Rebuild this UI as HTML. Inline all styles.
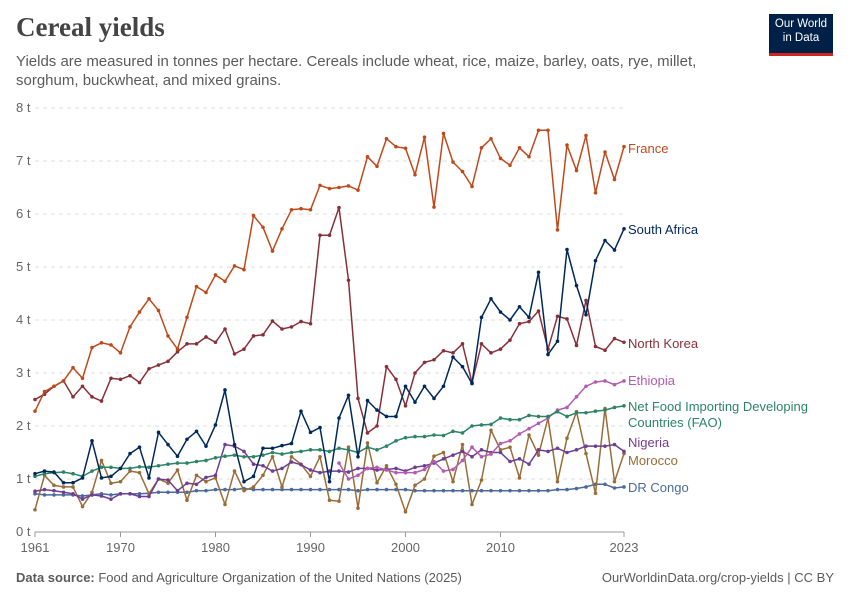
<!DOCTYPE html>
<html><head><meta charset="utf-8">
<style>
body{margin:0;background:#fff;font-family:"Liberation Sans",sans-serif;}
#wrap{position:relative;width:850px;height:600px;overflow:hidden;}
h1{position:absolute;left:16px;top:12px;margin:0;font-family:"Liberation Serif",serif;font-size:27px;font-weight:bold;color:#444;}
.sub{position:absolute;left:16px;top:52px;width:700px;font-size:15px;line-height:19px;color:#5b5b5b;}
.logo{position:absolute;left:769px;top:14px;width:64px;height:36px;background:#002147;border-bottom:3px solid #ce261e;color:#fff;font-size:11.5px;line-height:14px;text-align:center;padding-top:3px;box-sizing:content-box;}
.foot{position:absolute;top:570px;font-size:13px;color:#5b5b5b;}
</style></head><body>
<div id="wrap">
<h1>Cereal yields</h1>
<div class="sub">Yields are measured in tonnes per hectare. Cereals include wheat, rice, maize, barley, oats, rye, millet, sorghum, buckwheat, and mixed grains.</div>
<div class="logo">Our World<br>in Data</div>
<svg id="chart" width="850" height="600" style="position:absolute;left:0;top:0"></svg>
<div class="foot" style="left:16px"><b>Data source:</b> Food and Agriculture Organization of the United Nations (2025)</div>
<div class="foot" style="right:16px">OurWorldinData.org/crop-yields | CC BY</div>
</div>
<script>
const startYear = 1961;
const yTicks = [0,1,2,3,4,5,6,7,8];
const xTicks = [1961,1970,1980,1990,2000,2010,2023];
const france = [2.28,2.65,2.75,2.85,3.1,2.9,3.48,3.57,3.53,3.38,3.87,4.15,4.4,4.18,3.7,3.45,4.05,4.63,4.52,4.85,4.73,5.02,4.95,5.97,5.75,5.3,5.72,6.08,6.1,6.08,6.54,6.48,6.5,6.53,6.45,7.08,6.9,7.42,7.27,7.24,6.74,7.45,6.13,7.52,6.98,6.8,6.52,7.25,7.42,7.05,6.92,7.25,7.08,7.58,7.58,5.7,7.3,6.82,7.48,6.4,7.17,6.65,7.27];
const northKorea = [2.5,2.6,2.75,2.85,2.55,2.75,2.55,2.47,2.9,2.88,2.95,2.82,3.08,3.15,3.22,3.4,3.55,3.55,3.68,3.58,3.83,3.36,3.45,3.7,3.72,3.98,3.83,3.87,3.97,3.93,5.6,5.6,6.12,4.75,2.52,1.87,2.0,3.12,2.88,2.38,3.0,3.2,3.25,3.42,3.38,3.55,2.82,3.55,3.38,3.45,3.62,3.93,3.97,4.17,3.45,4.07,4.02,3.52,4.37,3.5,3.43,3.65,3.58];
const southAfrica = [1.1,1.15,1.13,0.93,0.93,1.02,1.72,1.02,1.05,1.2,1.48,1.6,1.02,1.88,1.65,1.43,1.75,1.9,1.62,2.02,2.68,1.65,0.95,1.05,1.58,1.58,1.63,1.67,2.28,1.88,1.97,0.95,2.15,2.58,1.42,2.48,2.3,2.18,2.18,2.75,2.45,2.75,2.52,2.75,3.3,3.12,2.8,4.05,4.4,4.15,4.0,4.25,4.05,4.9,3.35,3.6,5.33,4.65,4.1,5.12,5.5,5.32,5.72];
const ethiopiaStart = 1993;
const ethiopia = [1.3,1.0,1.07,1.2,1.22,1.17,1.12,1.12,1.12,1.18,1.33,1.15,1.18,1.35,1.6,1.42,1.47,1.67,1.72,1.85,1.95,2.05,2.15,2.3,2.35,2.55,2.75,2.83,2.85,2.78,2.85];
const netFood = [1.05,1.1,1.12,1.13,1.1,1.05,1.15,1.22,1.22,1.2,1.2,1.23,1.22,1.25,1.28,1.3,1.3,1.33,1.35,1.4,1.43,1.45,1.42,1.42,1.45,1.5,1.47,1.5,1.52,1.55,1.55,1.52,1.58,1.55,1.5,1.6,1.55,1.62,1.72,1.78,1.8,1.8,1.83,1.82,1.9,1.87,2.0,2.02,2.03,2.15,2.12,2.12,2.2,2.18,2.18,2.27,2.18,2.25,2.25,2.28,2.3,2.35,2.38];
const nigeria = [0.77,0.8,0.78,0.75,0.72,0.62,0.7,0.68,0.62,0.72,0.72,0.67,0.67,1.0,0.98,0.78,0.92,0.9,1.03,1.07,1.65,1.62,1.52,1.28,1.25,1.15,1.2,1.32,1.27,1.17,1.12,1.15,1.15,1.13,1.2,1.2,1.17,1.18,1.2,1.15,1.22,1.25,1.3,1.38,1.45,1.52,1.42,1.55,1.5,1.5,1.33,1.38,1.28,1.55,1.52,1.58,1.5,1.55,1.62,1.62,1.62,1.65,1.52];
const morocco = [0.42,1.07,0.88,0.85,0.85,0.48,0.75,1.35,0.92,0.95,1.15,1.12,0.72,1.0,0.92,1.17,0.6,1.07,0.95,1.02,0.52,1.15,0.78,0.85,1.07,1.42,0.85,1.42,1.28,1.05,1.42,0.6,0.58,1.6,0.45,1.68,0.93,1.25,0.9,0.38,0.88,1.0,1.43,1.5,0.95,1.65,0.52,0.98,1.92,1.55,1.6,1.02,1.83,1.45,2.15,0.95,1.77,2.27,1.48,0.73,2.33,0.95,1.48];
const drCongo = [0.72,0.7,0.7,0.7,0.7,0.68,0.7,0.72,0.7,0.72,0.72,0.72,0.73,0.75,0.75,0.75,0.75,0.78,0.78,0.8,0.8,0.8,0.82,0.8,0.8,0.8,0.8,0.8,0.8,0.8,0.8,0.8,0.8,0.8,0.78,0.8,0.8,0.8,0.8,0.8,0.78,0.78,0.78,0.78,0.78,0.78,0.78,0.78,0.78,0.78,0.78,0.78,0.78,0.78,0.78,0.8,0.8,0.82,0.85,0.9,0.9,0.83,0.85];

const svg = document.getElementById('chart');
const NS = 'http://www.w3.org/2000/svg';
const x = yr => 35 + (yr - 1961) * (589 / 62);
const y = v => 532 - v * 53;
function mk(tag, attrs, parent) {
  const e = document.createElementNS(NS, tag);
  for (const k in attrs) e.setAttribute(k, attrs[k]);
  (parent || svg).appendChild(e);
  return e;
}
yTicks.forEach(t => {
  if (t > 0) {
    const g = mk('line', {x1: 35, x2: 624, y1: y(t), y2: y(t), stroke: '#ddd', 'stroke-dasharray': '4,4'});
    
    
  }
  const lb = mk('text', {x: 16, y: y(t) + 4, 'font-size': 13, fill: '#666', 'font-family': 'Liberation Sans, sans-serif'});
  lb.textContent = t + ' t';
  
  
});
const ax = mk('line', {x1: 35, x2: 624, y1: 532, y2: 532, stroke: '#999'});


xTicks.forEach(t => {
  mk('line', {x1: x(t), x2: x(t), y1: 532, y2: 537, stroke: '#999'});
  const lb = mk('text', {x: x(t), y: 552, 'font-size': 13, fill: '#666', 'text-anchor': 'middle', 'font-family': 'Liberation Sans, sans-serif'});
  lb.textContent = t;
  
  
});
const series = [
  {name: 'DR Congo', data: drCongo, start: startYear, color: '#4C6A9C', ly: 492},
  {name: 'Morocco', data: morocco, start: startYear, color: '#996D39', ly: 465},
  {name: 'Nigeria', data: nigeria, start: startYear, color: '#6D3E91', ly: 447},
  {name: 'Ethiopia', data: ethiopia, start: ethiopiaStart, color: '#B35BB2', ly: 385},
  {name: 'Net Food Importing Developing|Countries (FAO)', data: netFood, start: startYear, color: '#2C8465', ly: 411},
  {name: 'North Korea', data: northKorea, start: startYear, color: '#883039', ly: 348},
  {name: 'South Africa', data: southAfrica, start: startYear, color: '#00295B', ly: 234},
  {name: 'France', data: france, start: startYear, color: '#BE4A1C', ly: 153}
];
series.forEach(s => {
  const g = mk('g', {});
  
  
  const pts = s.data.map((v, i) => x(s.start + i).toFixed(1) + ',' + y(v).toFixed(1)).join(' ');
  mk('polyline', {points: pts, fill: 'none', stroke: s.color, 'stroke-width': 1.5, 'stroke-linejoin': 'round'}, g);
  s.data.forEach((v, i) => {
    const c = mk('circle', {cx: x(s.start + i), cy: y(v), r: 1.8, fill: s.color}, g);
    
    
  });
  const lines = s.name.split('|');
  const t = mk('text', {x: 628, y: s.ly, 'font-size': 13, fill: s.color, 'font-family': 'Liberation Sans, sans-serif'});
  
  
  lines.forEach((l, i) => {
    const ts = mk('tspan', {x: 628, dy: i ? 16 : 0}, t);
    ts.textContent = l;
  });
});
</script>
</body></html>
